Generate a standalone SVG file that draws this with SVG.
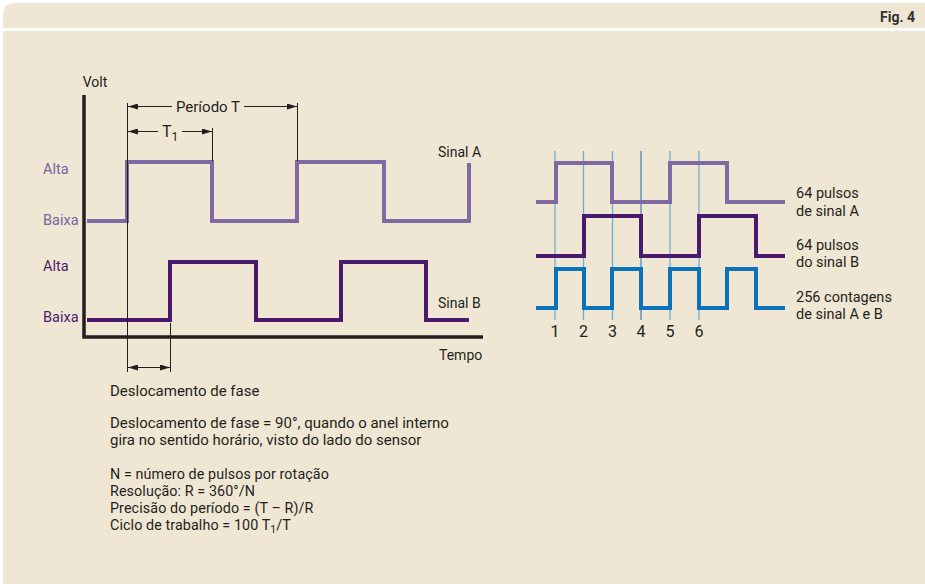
<svg xmlns="http://www.w3.org/2000/svg" width="925" height="584" viewBox="0 0 925 584">
<style>
text{font-family:Roboto,"Liberation Sans",sans-serif;fill:#231f20;font-size:14px}
.lo{fill:#7b62a0;font-size:14.5px}
.dk{fill:#4b1b6e;font-size:14.5px}
.nt{font-size:15px}
.ns{font-size:14.3px;letter-spacing:0.1px}
.rl{font-size:14.5px}
.ax{fill:none;stroke:#231f20;stroke-width:3.5}
.sa{fill:none;stroke:#8068a2;stroke-width:4}
.sb{fill:none;stroke:#4a1a6e;stroke-width:4}
.sc{fill:none;stroke:#0a72b9;stroke-width:4}
.dim{fill:none;stroke:#231f20;stroke-width:1}
.gl{stroke:#6aaed6;stroke-width:1.3}
.gd{stroke:#1a6aa8;stroke-width:1}
.num{font-size:16px;text-anchor:middle}
</style>
<defs>
<marker id="ar" viewBox="0 0 10 6" refX="10" refY="3" markerWidth="10" markerHeight="6" markerUnits="userSpaceOnUse" orient="auto">
<path d="M0,0 L10,3 L0,6 z" fill="#231f20"/>
</marker>
</defs>
<rect width="925" height="584" fill="#fff"/>
<path d="M3,28 V15 Q3,3 15,3 H925 V28 z" fill="#efe7d4"/>
<rect x="3" y="31" width="922" height="553" fill="#efe7d4"/>
<text x="915" y="22" text-anchor="end" style="font-weight:bold;font-size:14px;fill:#333">Fig. 4</text>

<g id="left-chart">
<g id="axes">
<path class="ax" d="M84,95 V337 H483"/>
<text x="95" y="87" text-anchor="middle">Volt</text>
<text x="439" y="360">Tempo</text>
</g>
<g id="signal-a">
<path class="sa" d="M87,221 H127 V162 H212 V221 H297 V162 H384 V221 H469 V163"/>
<text x="438" y="157">Sinal A</text>
<text class="lo" x="43" y="174">Alta</text>
<text class="lo" x="43" y="225">Baixa</text>
</g>
<g id="signal-b">
<path class="sb" d="M87,320 H170 V262 H256 V320 H341 V262 H426 V320 H469"/>
<text x="438" y="308">Sinal B</text>
<text class="dk" x="43" y="271">Alta</text>
<text class="dk" x="43" y="322">Baixa</text>
</g>
<g id="dimensions">
<line class="dim" x1="127.5" y1="103" x2="127.5" y2="372"/>
<line class="dim" x1="212.5" y1="128" x2="212.5" y2="161"/>
<line class="dim" x1="297.5" y1="103" x2="297.5" y2="161"/>
<line class="dim" x1="170.5" y1="323" x2="170.5" y2="372"/>
<line class="dim" x1="172" y1="106.5" x2="128" y2="106.5" marker-end="url(#ar)"/>
<line class="dim" x1="244" y1="106.5" x2="297" y2="106.5" marker-end="url(#ar)"/>
<text x="208" y="112" text-anchor="middle" style="font-size:15px">Período T</text>
<line class="dim" x1="158" y1="131.5" x2="128" y2="131.5" marker-end="url(#ar)"/>
<line class="dim" x1="182" y1="131.5" x2="212" y2="131.5" marker-end="url(#ar)"/>
<text x="162" y="137" style="font-size:16px">T<tspan dy="4" style="font-size:12px">1</tspan></text>
<line class="dim" x1="148" y1="367.5" x2="128" y2="367.5" marker-end="url(#ar)"/>
<line class="dim" x1="148" y1="367.5" x2="170" y2="367.5" marker-end="url(#ar)"/>
</g>
</g>

<g id="notes">
<text class="nt" x="110" y="396">Deslocamento de fase</text>
<text class="nt" x="110" y="428">Deslocamento de fase = 90°, quando o anel interno</text>
<text class="nt" x="110" y="445">gira no sentido horário, visto do lado do sensor</text>
<text class="ns" x="110" y="479">N = número de pulsos por rotação</text>
<text class="ns" x="110" y="496">Resolução: R = 360°/N</text>
<text class="ns" x="110" y="513">Precisão do período = (T – R)/R</text>
<text class="ns" x="110" y="530">Ciclo de trabalho = 100 T<tspan dy="3" style="font-size:10.5px">1</tspan><tspan dy="-3">/T</tspan></text>
</g>

<g id="right-chart">
<g id="grid">
<line class="gl" x1="555" y1="151" x2="555" y2="320"/>
<line class="gl" x1="583.5" y1="151" x2="583.5" y2="320"/>
<line class="gl" x1="612.5" y1="151" x2="612.5" y2="320"/>
<line class="gd" x1="641" y1="151" x2="641" y2="320"/>
<line class="gl" x1="670" y1="151" x2="670" y2="320"/>
<line class="gl" x1="699" y1="151" x2="699" y2="320"/>
</g>
<g id="wave-a">
<path class="sa" d="M536,202 H556 V163 H612 V202 H670 V163 H727 V202 H785"/>
<text class="rl" x="796" y="198">64 pulsos</text>
<text class="rl" x="796" y="216">de sinal A</text>
</g>
<g id="wave-b">
<path class="sb" d="M536,256 H584 V216 H641 V256 H699 V216 H756 V256 H785"/>
<text class="rl" x="796" y="250">64 pulsos</text>
<text class="rl" x="796" y="267">do sinal B</text>
</g>
<g id="wave-ab">
<path class="sc" d="M536,308 H556 V269 H584 V308 H612 V269 H641 V308 H670 V269 H699 V308 H727 V269 H756 V308 H785"/>
<text class="rl" x="796" y="302">256 contagens</text>
<text class="rl" x="796" y="319">de sinal A e B</text>
</g>
<g id="counts">
<text class="num" x="555" y="337">1</text>
<text class="num" x="583.5" y="337">2</text>
<text class="num" x="612.5" y="337">3</text>
<text class="num" x="641" y="337">4</text>
<text class="num" x="670" y="337">5</text>
<text class="num" x="699" y="337">6</text>
</g>
</g>
</svg>
